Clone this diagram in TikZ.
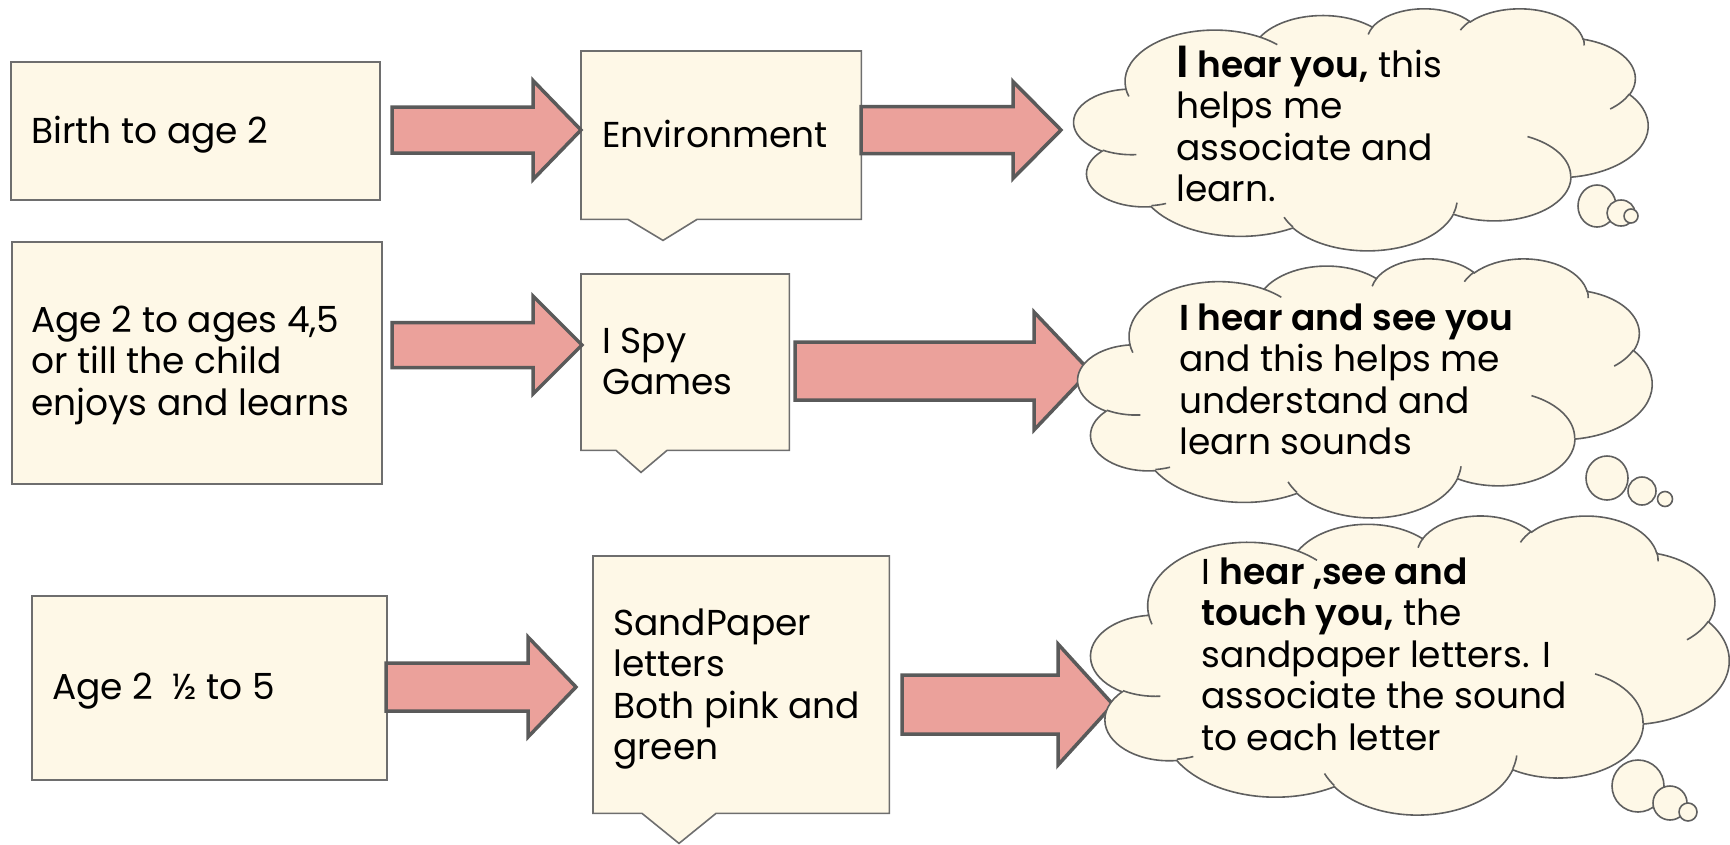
\documentclass[tikz,border=0pt]{standalone}
\usepackage{fontspec}
\setmainfont{Poppins}[BoldFont={Poppins SemiBold}]
\definecolor{cream}{RGB}{254,248,231}
\definecolor{boxline}{RGB}{110,110,110}
\definecolor{arrfill}{RGB}{235,161,155}
\definecolor{arrline}{RGB}{90,90,90}
\definecolor{cloudline}{RGB}{95,95,95}
\newcommand\mainfs{\fontsize{36}{41.5}\selectfont}
\newcommand\topstrut{\rule{0pt}{33pt}}
% one arc of the cloud outline (radii in 1/100 of the 43200 grid, angles in degrees)
\newcommand\carc[4]{%
  \pgfmathsetmacro\clTs{atan2(#1*sin(#3), #2*cos(#3))}%
  \pgfmathsetmacro\clTe{atan2(#1*sin(#3+#4), #2*cos(#3+#4))}%
  \pgfmathsetmacro\clTd{\clTe-\clTs}%
  \pgfmathsetmacro\clTd{ifthenelse(\clTd<0,\clTd+360,\clTd)}%
  \pgfmathsetmacro\clRx{#1*\clSx}%
  \pgfmathsetmacro\clRy{#2*\clSy}%
  \pgfmathsetmacro\clS{-\clTs}%
  \pgfmathsetmacro\clE{-\clTs-\clTd}%
  \pgfpatharc{\clS}{\clE}{\clRx pt and \clRy pt}%
}
\newcommand\drawcloud[4]{%
  \begin{scope}[shift={(#1,#2)}]
  \pgfmathsetmacro\clSx{#3/432}\pgfmathsetmacro\clSy{#4/432}%
  \pgfsetxvec{\pgfpoint{\clSx pt}{0pt}}%
  \pgfsetyvec{\pgfpoint{0pt}{-\clSy pt}}%
  \pgfsetlinewidth{1.6pt}%
  \pgfsetfillcolor{cream}\pgfsetstrokecolor{cloudline}%
  \pgfpathmoveto{\pgfpointxy{39.00}{143.70}}%
  \carc{67.53}{91.90}{-190.4875}{123.7805}%
  \carc{53.33}{72.67}{-144.1024}{89.9452}%
  \carc{43.65}{59.45}{-145.8079}{99.7230}%
  \carc{48.57}{65.95}{-130.9861}{117.2417}%
  \carc{53.33}{72.73}{-78.7089}{109.0269}%
  \carc{67.75}{92.20}{-46.2673}{130.2690}%
  \carc{57.85}{78.67}{0.6250}{114.0333}%
  \carc{67.52}{92.15}{22.4516}{115.1726}%
  \carc{77.20}{105.43}{66.2426}{75.7110}%
  \carc{43.60}{59.18}{-274.9421}{146.7356}%
  \carc{43.45}{59.45}{-246.8285}{152.5189}%
  \pgfpathclose
  \pgfusepath{fill,stroke}%
  \pgfpathmoveto{\pgfpointxy{46.93}{261.77}}\carc{43.45}{59.45}{86.742}{26.4295}%
  \pgfpathmoveto{\pgfpointxy{69.28}{348.99}}\carc{43.60}{59.18}{73.6105}{11.4475}%
  \pgfpathmoveto{\pgfpointxy{164.78}{390.90}}\carc{67.52}{92.15}{137.6242}{14.0811}%
  \pgfpathmoveto{\pgfpointxy{288.27}{347.51}}\carc{67.52}{92.15}{6.4533}{15.9984}%
  \pgfpathmoveto{\pgfpointxy{341.29}{229.54}}\carc{57.85}{78.67}{-70.2924}{70.9174}%
  \pgfpathmoveto{\pgfpointxy{417.98}{153.54}}\carc{53.33}{72.73}{30.3180}{27.7515}%
  \pgfpathmoveto{\pgfpointxy{383.24}{54.26}}\carc{48.57}{65.95}{-13.7443}{14.8589}%
  \pgfpathmoveto{\pgfpointxy{290.78}{39.52}}\carc{48.57}{65.95}{-149.1815}{18.1954}%
  \pgfpathmoveto{\pgfpointxy{221.41}{47.20}}\carc{43.65}{59.45}{-163.4943}{17.6864}%
  \pgfpathmoveto{\pgfpointxy{140.00}{51.92}}\carc{67.53}{91.90}{-66.7070}{12.3194}%
  \pgfpathmoveto{\pgfpointxy{41.27}{157.89}}\carc{67.53}{91.90}{157.6544}{11.8582}%
  \pgfusepath{stroke}%
  \end{scope}}
\newcommand\barrow[6]{%
  \draw[arrowst] (#1,#2-#5) -- (#3,#2-#5) -- (#3,#2-#6) -- (#4,#2) -- (#3,#2+#6) -- (#3,#2+#5) -- (#1,#2+#5) -- cycle;}
\tikzset{
  plainbox/.style={draw=boxline, fill=cream, line width=1.6pt, rectangle, inner sep=0pt, anchor=north west},
  framebox/.style={rectangle, inner sep=0pt, anchor=north west, draw=none},
  calloutst/.style={draw=boxline, fill=cream, line width=1.6pt, line join=miter},
  arrowst/.style={draw=arrline, fill=arrfill, line width=3.5pt, line join=miter},
  txt/.style={anchor=north west, inner sep=0pt, align=left, font=\mainfs, text=black},
  bubble/.style={draw=cloudline, fill=cream, line width=1.6pt},
}
\begin{document}
\begin{tikzpicture}[x=1pt,y=-1pt]
\useasboundingbox (0,0) rectangle (1730,844);
% left boxes
\node[plainbox, minimum width=369pt, minimum height=138pt] (b1) at (10,61) {};
\node[plainbox, minimum width=370pt, minimum height=242pt] (b3) at (11,241) {};
\node[plainbox, minimum width=355pt, minimum height=184pt] (b5) at (31,595) {};
% callout boxes
\node[framebox, minimum width=280pt, minimum height=168pt] (b2) at (581,51) {};
\node[framebox, minimum width=208pt, minimum height=176pt] (b4) at (581,274) {};
\node[framebox, minimum width=296pt, minimum height=257pt] (b6) at (593,556) {};
\draw[calloutst] (b2.north west) -- (b2.north east) -- (b2.south east)
  -- ([xshift=116pt]b2.south west) -- ([xshift=82pt,yshift=-21pt]b2.south west)
  -- ([xshift=47pt]b2.south west) -- (b2.south west) -- cycle;
\draw[calloutst] (b4.north west) -- (b4.north east) -- (b4.south east)
  -- ([xshift=86pt]b4.south west) -- ([xshift=60pt,yshift=-22pt]b4.south west)
  -- ([xshift=35pt]b4.south west) -- (b4.south west) -- cycle;
\draw[calloutst] (b6.north west) -- (b6.north east) -- (b6.south east)
  -- ([xshift=123pt]b6.south west) -- ([xshift=86pt,yshift=-30pt]b6.south west)
  -- ([xshift=49pt]b6.south west) -- (b6.south west) -- cycle;
% block arrows
\barrow{392}{130}{533}{581}{23}{49.5}
\barrow{861}{130}{1013}{1061}{23.5}{48.5}
\barrow{392}{345}{533}{582}{22.5}{49}
\barrow{795}{371}{1034}{1090}{29}{59}
\barrow{386}{687}{528}{576}{24}{50}
\barrow{902}{704.5}{1058}{1113}{29.5}{60.5}
% clouds
\node[framebox, minimum width=574pt, minimum height=242pt] (c1) at (1074,8) {};
\node[framebox, minimum width=574pt, minimum height=259pt] (c2) at (1078,258) {};
\node[framebox, minimum width=638pt, minimum height=299pt] (c3) at (1091,515) {};
\drawcloud{1074}{8}{574}{242}
\drawcloud{1078}{258}{574}{259}
\drawcloud{1091}{515}{638}{299}
% thought bubbles
\draw[bubble] (1597,206) ellipse [x radius=19pt, y radius=21pt];
\draw[bubble] (1621,213) ellipse [x radius=14pt, y radius=13pt];
\draw[bubble] (1631,216) ellipse [x radius=7pt, y radius=7pt];
\draw[bubble] (1607,478) ellipse [x radius=21pt, y radius=22pt];
\draw[bubble] (1642,491) ellipse [x radius=14pt, y radius=14pt];
\draw[bubble] (1665,499) ellipse [x radius=7.5pt, y radius=7.5pt];
\draw[bubble] (1638,786) ellipse [x radius=26pt, y radius=26pt];
\draw[bubble] (1670,803) ellipse [x radius=17pt, y radius=17pt];
\draw[bubble] (1688,812) ellipse [x radius=9pt, y radius=9pt];
% texts
\node[txt] (t1) at (31,143-33) {\topstrut Birth to age 2};
\node[txt] (t3) at (31,332-33) {\topstrut Age 2 to ages 4,5\\or till the child\\enjoys and learns};
\node[txt] (t5) at (52,699-33) {\topstrut Age 2~~½ to 5};
\node[txt] (t2) at (602,147-33) {\topstrut Environment};
\node[txt] (t4) at (602,353-33) {\topstrut I Spy\\Games};
\node[txt] (t6) at (613,635-33) {\topstrut SandPaper\\letters\\Both pink and\\green};
\node[txt] (t7) at (1176,77-33) {\topstrut\textbf{{\fontsize{45}{41.5}\selectfont I} hear you,} this\\helps me\\associate and\\learn.};
\node[txt] (t8) at (1179,330-33) {\topstrut\textbf{I hear and see you}\\and this helps me\\understand and\\learn sounds};
\node[txt] (t9) at (1201,584-33) {\topstrut I \textbf{hear ,see and}\\\textbf{touch you,} the\\sandpaper letters. I\\associate the sound\\to each letter};
\end{tikzpicture}
\end{document}
